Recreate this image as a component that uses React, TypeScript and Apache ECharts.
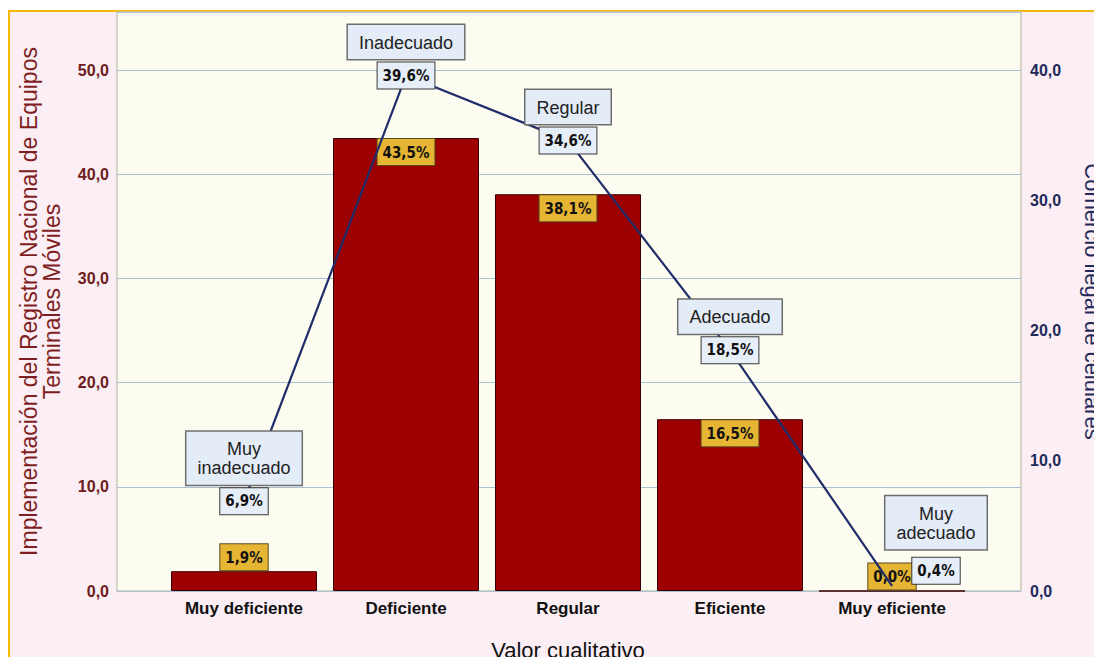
import React, { useEffect, useRef } from "react";
import * as echarts from "echarts";

const categories = ["Muy deficiente", "Deficiente", "Regular", "Eficiente", "Muy eficiente"];
const barValues = [1.9, 43.5, 38.1, 16.5, 0.0];
const lineNames = ["Muy\ninadecuado", "Inadecuado", "Regular", "Adecuado", "Muy\nadecuado"];
const lineValues = [6.9, 39.6, 34.6, 18.5, 0.4];
const leftMax = 55.6;
const rightMax = 44.48;

const fmt = (v: number) => v.toFixed(1).replace(".", ",");
const narrow = "'Liberation Sans Narrow', 'DejaVu Sans Condensed', 'Liberation Sans', Arial, sans-serif";
const sans = "'Liberation Sans', Arial, sans-serif";

export default function App() {
  const ref = useRef<HTMLDivElement>(null);
  useEffect(() => {
    if (!ref.current) return;
    const chart = echarts.init(ref.current, null, { renderer: "svg" });
    const valBox = {
      backgroundColor: "#e6eef8",
      borderColor: "#3a3a3a",
      borderWidth: 1,
      padding: [6, 5, 5, 5],
      fontFamily: narrow,
      fontWeight: "bold",
      fontSize: 15,
      color: "#111",
    };
    const barBox = {
      ...valBox,
      backgroundColor: "#e5b533",
      borderColor: "#5a4a20",
    };
    chart.setOption({
      animation: false,
      backgroundColor: "#ffffff",
      graphic: [
        {
          type: "rect",
          z: -100,
          silent: true,
          shape: { x: 9, y: 11, width: 1200, height: 800 },
          style: { fill: "#fbeef4", stroke: "#f5b800", lineWidth: 2 },
        },
      ],
      grid: [
        {
          left: 117,
          top: 12,
          width: 904,
          height: 579,
          show: true,
          backgroundColor: "#fdfcf0",
          borderColor: "#c8cab6",
          borderWidth: 1.5,
          outerBoundsMode: "none",
          containLabel: false,
        },
        { left: 163, top: 12, width: 810, height: 579, outerBoundsMode: "none", containLabel: false },
      ],
      xAxis: [
        { type: "value", gridIndex: 0, min: 0, max: 1, show: false },
        {
          type: "category",
          gridIndex: 1,
          data: categories,
          axisLine: { show: false },
          axisTick: { show: false },
          axisLabel: { color: "#111", fontFamily: sans, fontWeight: "bold", fontSize: 17, margin: 9 },
          name: "Valor cualitativo",
          nameLocation: "middle",
          nameGap: 48,
          nameTextStyle: { color: "#111", fontFamily: sans, fontSize: 22 },
        },
      ],
      yAxis: [
        {
          type: "value",
          gridIndex: 0,
          position: "left",
          min: 0,
          max: leftMax,
          interval: 10,
          axisLine: { show: false },
          axisTick: { show: false },
          splitLine: { show: true, lineStyle: { color: "#a9c0d6", width: 1.2 } },
          axisLabel: {
            showMaxLabel: false,
            formatter: (v: number) => (v % 10 === 0 ? fmt(v) : ""),
            color: "#6e1c1c",
            fontFamily: sans,
            fontWeight: "bold",
            fontSize: 16,
            margin: 8,
          },
          name: "Implementación del Registro Nacional de Equipos\nTerminales Móviles",
          nameLocation: "middle",
          nameRotate: 90,
          nameGap: 54,
          nameTextStyle: { color: "#7f1e1e", fontFamily: sans, fontSize: 23, lineHeight: 23 },
        },
        {
          type: "value",
          gridIndex: 0,
          position: "right",
          min: 0,
          max: rightMax,
          interval: 10,
          axisLine: { show: false },
          axisTick: { show: false },
          splitLine: { show: false },
          axisLabel: {
            showMaxLabel: false,
            formatter: (v: number) => (v % 10 === 0 ? fmt(v) : ""),
            color: "#1f2a5a",
            fontFamily: sans,
            fontWeight: "bold",
            fontSize: 16,
            margin: 9,
          },
          name: "Comercio ilegal de celulares",
          nameLocation: "middle",
          nameRotate: -90,
          nameGap: 60,
          nameTextStyle: { color: "#1f2a5a", fontFamily: sans, fontSize: 22 },
        },
        { type: "value", gridIndex: 1, min: 0, max: leftMax, show: false },
        { type: "value", gridIndex: 1, min: 0, max: rightMax, show: false },
      ],
      series: [
        {
          type: "bar",
          xAxisIndex: 1,
          yAxisIndex: 2,
          barWidth: 146,
          itemStyle: { color: "#9c0000", borderColor: "#3d0000", borderWidth: 1 },
          label: {
            show: true,
            position: "insideTop",
            distance: 1,
            formatter: (p: any) => fmt(p.value) + "%",
            ...barBox,
          },
          data: barValues.map((v, i) =>
            i === 0 || i === barValues.length - 1
              ? { value: v, label: { position: "top", distance: 1 } }
              : v
          ),
        },
        {
          type: "line",
          xAxisIndex: 1,
          yAxisIndex: 3,
          symbol: "circle",
          symbolSize: 1,
          itemStyle: { color: "#1f2d6b" },
          lineStyle: { color: "#1f2d6b", width: 2.2 },
          label: {
            show: true,
            position: "inside",
            formatter: (p: any) => fmt(p.value) + "%",
            ...valBox,
          },
          z: 3,
          data: lineValues.map((v, i) =>
            i === lineValues.length - 1 ? { value: v, label: { offset: [44, -15] } } : v
          ),
        },
        {
          type: "line",
          xAxisIndex: 1,
          yAxisIndex: 3,
          symbol: "circle",
          symbolSize: 1,
          lineStyle: { color: "rgba(0,0,0,0)", width: 0 },
          itemStyle: { color: "rgba(0,0,0,0)" },
          label: {
            show: true,
            position: "top",
            distance: 16,
            formatter: (p: any) => lineNames[p.dataIndex],
            backgroundColor: "#e3ecf7",
            borderColor: "#6e6e6e",
            borderWidth: 1.5,
            padding: [8, 11, 7, 11],
            fontFamily: sans,
            fontSize: 18,
            lineHeight: 19,
            color: "#222",
            align: "center",
          },
          z: 4,
          data: lineValues.map((v, i) =>
            i === lineValues.length - 1 ? { value: v, label: { offset: [44, -20] } } : v
          ),
        },
      ],
    });
    return () => chart.dispose();
  }, []);
  return (
    <div
      ref={ref}
      style={{ position: "fixed", left: 0, top: 0, width: 1094, height: 657 }}
    />
  );
}
